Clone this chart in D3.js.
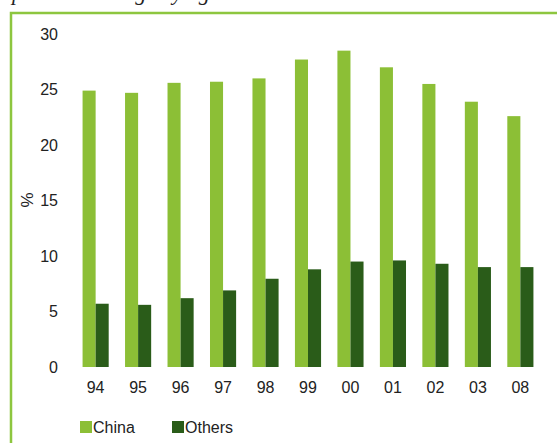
<!DOCTYPE html>
<html>
<head>
<meta charset="utf-8">
<script src="https://cdn.jsdelivr.net/npm/d3@7"></script>
<style>
  body { margin: 0; background: #fff; }
  svg { display: block; }
</style>
</head>
<body>
<div id="chart"></div>
<script>
// Data
var years = ['94', '95', '96', '97', '98', '99', '00', '01', '02', '03', '08'];
var china = [24.9, 24.7, 25.6, 25.7, 26.0, 27.7, 28.5, 27.0, 25.5, 23.9, 22.6];
var others = [5.7, 5.6, 6.2, 6.9, 7.95, 8.8, 9.5, 9.6, 9.3, 9.0, 9.0];
var seriesNames = ['China', 'Others'];
var yTicks = [0, 5, 10, 15, 20, 25, 30];

var width = 557;
var height = 443;
var colors = ['#8cbf36', '#2a5c19'];
var font = 'Liberation Sans, Arial, sans-serif';

var svg = d3.select('#chart')
  .append('svg')
  .attr('width', width)
  .attr('height', height);

// Caption cut off by the top edge, as in the source image
svg.append('text')
  .attr('x', 12)
  .attr('y', 0)
  .attr('font-family', 'Liberation Serif, serif')
  .attr('font-style', 'italic')
  .attr('font-size', 22)
  .attr('fill', '#222')
  .text('percentile range by age');

// Frame
svg.append('path')
  .attr('d', 'M11,' + (height + 2) + 'V13H' + (width + 2))
  .attr('fill', 'none')
  .attr('stroke', '#8dc63f')
  .attr('stroke-width', 2.5);

// Scales
var y = d3.scaleLinear()
  .domain([0, 30])
  .range([367, 34]);

var x = d3.scaleBand()
  .domain(years)
  .range([74.5, 541.5])
  .paddingInner(0.385)
  .paddingOuter(0.19);

var xs = d3.scaleBand()
  .domain(seriesNames)
  .range([0, x.bandwidth()]);

// Y tick labels
svg.selectAll('.ytick')
  .data(yTicks)
  .enter()
  .append('text')
  .attr('class', 'ytick')
  .attr('x', 58)
  .attr('y', function (d) { return y(d); })
  .attr('dy', '0.35em')
  .attr('text-anchor', 'end')
  .attr('font-family', font)
  .attr('font-size', 16)
  .attr('fill', '#222')
  .text(function (d) { return d; });

// Y axis title
svg.append('text')
  .attr('transform', 'translate(27,200) rotate(-90)')
  .attr('dy', '0.35em')
  .attr('text-anchor', 'middle')
  .attr('font-family', font)
  .attr('font-size', 17)
  .attr('fill', '#222')
  .text('%');

// Bars
var table = years.map(function (yr, i) {
  return { year: yr, values: [china[i], others[i]] };
});

var groups = svg.selectAll('.group')
  .data(table)
  .enter()
  .append('g')
  .attr('class', 'group')
  .attr('transform', function (d) { return 'translate(' + x(d.year) + ',0)'; });

groups.selectAll('rect')
  .data(function (d) {
    return d.values.map(function (v, j) { return { name: seriesNames[j], value: v, j: j }; });
  })
  .enter()
  .append('rect')
  .attr('x', function (d) { return xs(d.name); })
  .attr('y', function (d) { return y(d.value); })
  .attr('width', xs.bandwidth())
  .attr('height', function (d) { return y(0) - y(d.value); })
  .attr('fill', function (d) { return colors[d.j]; });

// X tick labels
svg.selectAll('.xtick')
  .data(years)
  .enter()
  .append('text')
  .attr('class', 'xtick')
  .attr('x', function (d) { return x(d) + x.bandwidth() / 2; })
  .attr('y', 387)
  .attr('dy', '0.35em')
  .attr('text-anchor', 'middle')
  .attr('font-family', font)
  .attr('font-size', 16)
  .attr('fill', '#222')
  .text(function (d) { return d; });

// Legend
var legendX = [80, 172];
var legend = svg.selectAll('.legend')
  .data(seriesNames)
  .enter()
  .append('g')
  .attr('class', 'legend')
  .attr('transform', function (d, i) { return 'translate(' + legendX[i] + ',427)'; });

legend.append('rect')
  .attr('x', 0)
  .attr('y', -6)
  .attr('width', 12)
  .attr('height', 12)
  .attr('fill', function (d, i) { return colors[i]; });

legend.append('text')
  .attr('x', 13)
  .attr('dy', '0.35em')
  .attr('font-family', font)
  .attr('font-size', 16)
  .attr('fill', '#222')
  .text(function (d) { return d; });
</script>
</body>
</html>
